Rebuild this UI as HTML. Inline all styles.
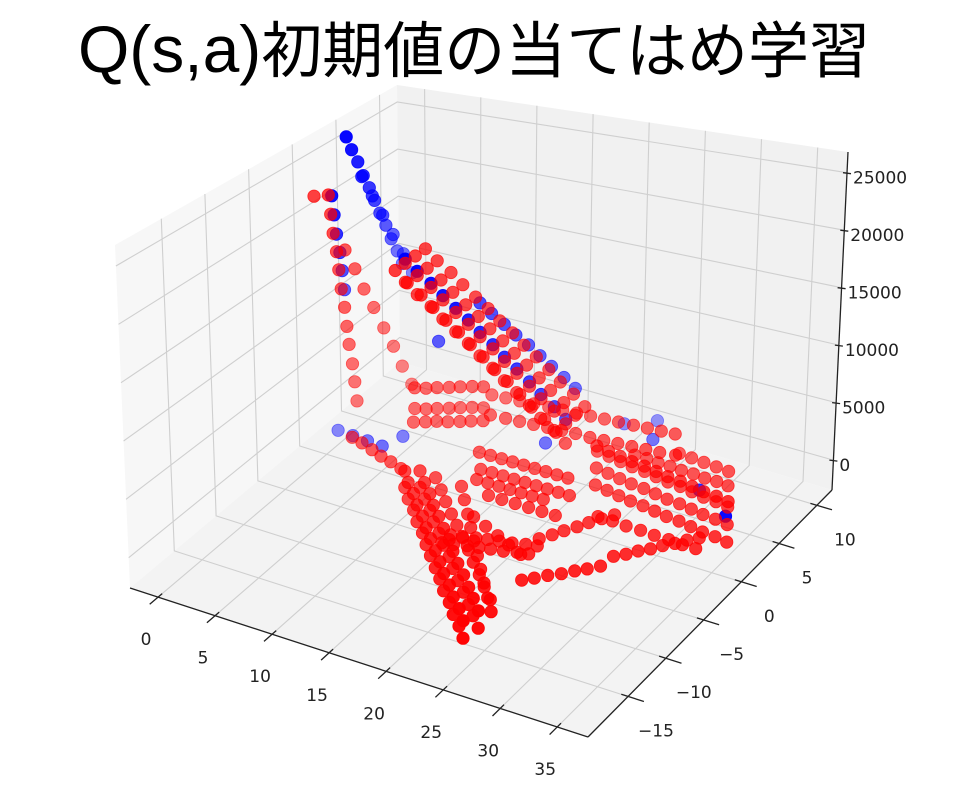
<!DOCTYPE html>
<html><head><meta charset="utf-8">
<style>
html,body{margin:0;padding:0;background:#fff;}
svg{display:block;}
</style></head>
<body>
<svg id="chart" width="968" height="786" viewBox="0 0 968 786" xmlns="http://www.w3.org/2000/svg">
<text x="474" y="72" text-anchor="middle" font-family="'Liberation Sans','Noto Sans CJK JP',sans-serif" font-size="61" fill="#000"><tspan font-size="66">Q(s,a)</tspan>初期値の当てはめ学習</text>
<g id="panes"></g>
<g id="grid"></g>
<g id="axes"></g>
<g id="blue"></g>
<g id="red"></g>
</svg>
<script>
// ---- chart data ----
const xTicks = [0, 5, 10, 15, 20, 25, 30, 35];
const yTicks = [-15, -10, -5, 0, 5, 10];
const zTicks = [0, 5000, 10000, 15000, 20000, 25000];
const xTickLabels = ["0","5","10","15","20","25","30","35"];
const yTickLabels = ["\u221215","\u221210","\u22125","0","5","10"];
const zTickLabels = ["0","5000","10000","15000","20000","25000"];

const blueX = [-0.5,-0.2,0.1,0.4,0.7,1.0,1.3,1.6,1.9,2.2,2.5,
  0.2,0.8,1.4,2.0,2.6,3.1,
  10.5,11.4,12.4,13.3,14.3,15.2,16.1,17.1,18.0,
  2.3,3.7,5.1,6.5,
  21.3,24.5,31.1,34.8,23.4,17.3,7.1,8.2,
  6.9,7.8,8.8,9.7,10.7,11.6,12.5,13.5,14.4,15.3,16.3,17.2,18.2,19.1,
  -0.1,0.0,0.1,0.3,0.4,0.5];
const blueY = [3.6,3.8,4.1,4.3,4.6,4.8,5.0,5.3,5.5,5.8,6.0,
  4.4,4.8,5.2,5.6,6.0,6.4,
  4.6,4.8,5.0,5.2,5.4,5.6,5.8,6.0,6.2,
  -1.6,-1.7,-1.8,-1.9,
  7.9,7.1,3.8,1.9,9.2,3.5,-0.2,2.7,
  0.5,0.7,1.0,1.2,1.4,1.7,1.9,2.1,2.3,2.6,2.8,3.0,3.3,3.5,
  1.3,1.4,1.5,1.6,1.7,1.8];
const blueZ = [26200,24900,23600,22200,20900,19600,18300,17000,15600,14300,13000,
  22000,20000,18000,16000,14000,12000,
  12100,11200,10300,9400,8600,7700,6800,5900,5000,
  1500,1500,1500,1500,
  1500,1500,1000,1000,1500,1500,1500,9000,
  17800,16750,15700,14650,13600,12550,11500,10500,9450,8400,7350,6300,5250,4200,
  21700,19800,17900,16100,14300,12400];

const redX = [
  6.9,7.8,8.8,9.7,10.7,11.6,12.5,13.5,14.4,15.3,16.3,17.2,18.2,19.1,
  6.9,7.8,8.8,9.7,10.7,11.6,12.5,13.5,14.4,15.3,16.3,17.2,18.2,19.1,
  6.9,7.8,8.8,9.7,10.7,11.6,12.5,13.5,14.4,15.3,16.3,17.2,18.2,19.1,
  -0.4,-0.3,-0.2,0,0.1,0.2,0.4,0.5,0.6,0.8,0.9,1.0,-1.2,
  -0.4,0,0.4,0.8,1.3,1.7,2.1,2.5,
  6.1,6.9,7.6,8.4,9.1,9.9,10.7,
  7.1,7.9,8.6,9.4,10.2,10.9,11.7,
  3.8,4.9,6.1,7.2,8.3,9.5,
  10.8,11.9,13.1,14.2,15.4,16.5,17.6,18.8,19.9,21.0,22.2,23.3,24.5,25.6,
  11.8,13.0,14.2,15.3,16.5,17.7,18.9,20.0,21.2,22.4,23.6,24.7,25.9,
  12.1,13.4,14.6,15.9,17.1,18.4,19.7,20.9,22.2,23.4,24.7,
  17.4,18.3,19.3,20.2,21.1,22.1,23.1,24.0,
  23.6,24.2,24.7,25.3,25.8,26.4,27.0,
  25.4,26.1,26.8,27.6,28.3,29.0,29.7,
  29.9,30.6,31.2,31.9,32.5,33.2,33.8,34.5,
  17.6,19.1,20.6,22.0,23.5,
  14.5,15.7,17.0,18.2,19.4,20.7,21.9,23.1,24.4,25.6,
  22.3,23.5,24.7,25.9,27.1,28.3,29.5,30.7,31.9,33.1,34.3,35.5,
  21.1,22.3,23.5,24.7,25.9,27.1,28.3,29.5,30.7,31.9,33.1,34.3,
  23.5,24.7,25.9,27.1,28.3,29.5,30.7,31.9,33.1,34.3,35.5,36.7,
  10.5,11.7,12.9,14.1,15.4,16.6,17.8,19.0,20.2,21.4,22.7,23.9,25.1,26.3,
  12.0,13.3,14.5,15.7,16.9,18.1,19.3,20.6,21.8,23.0,24.2,25.4,26.6,27.9,
  6.9,7.8,8.8,9.7,10.7,11.6,12.5,13.5,14.4,15.3,16.3,17.2,18.2,19.1,
  6.9,7.8,8.8,9.7,10.7,11.6,12.5,13.5,14.4,15.3,16.3,17.2,18.2,19.1,
  6.1,6.9,7.6,8.4,9.1,9.9,10.7,
  13.5,14.5,15.5,16.5,17.5,18.5,19.5,20.5,21.5,
  14.5,15.5,16.5,17.5,18.5,19.5,20.5,21.5,22.5,
  15,16,17,18,19,20,21,
  10.8,11.9,13.1,14.2,15.4,16.5,17.6,18.8,19.9,21.0,22.2,23.3,24.5,25.6,
  11.8,13.0,14.2,15.3,16.5,17.7,18.9,20.0,21.2,22.4,23.6,24.7,25.9,
  17.4,18.3,19.3,20.2,21.1,22.1,23.1,24.0,
  22.3,23.5,24.7,25.9,27.1,28.3,29.5,30.7,31.9,33.1,34.3,35.5,
  24.0,25.1,26.2,27.3,28.4,29.5,30.6,31.7,32.8,
  27.0,28.2,29.4,30.6,31.8,
  17.0,18.2,19.4,20.6,21.8,23.0,
  26.0,27.3,28.6,29.9,31.2,32.5,33.8,35.0];
const redY = [
  0.5,0.7,1.0,1.2,1.4,1.7,1.9,2.1,2.3,2.6,2.8,3.0,3.3,3.5,
  1.7,1.9,2.2,2.4,2.6,2.9,3.1,3.3,3.5,3.8,4.0,4.2,4.5,4.7,
  -0.7,-0.5,-0.2,0.0,0.2,0.5,0.7,0.9,1.1,1.4,1.6,1.8,2.1,2.3,
  1.3,1.4,1.5,1.6,1.7,1.8,1.9,2.0,2.1,2.2,2.3,2.4,0.7,
  3.1,3.7,4.2,4.8,5.3,5.9,6.4,7.0,
  2.6,2.9,3.3,3.7,4.1,4.5,4.8,
  1.1,1.5,1.9,2.2,2.6,3.0,3.4,
  -1.9,-2.2,-2.6,-3.0,-3.3,-3.7,
  -5.0,-6.1,-7.1,-8.2,-9.2,-10.3,-11.3,-12.4,-13.4,-14.5,-15.5,-16.6,-17.6,-18.7,
  -4.5,-5.6,-6.6,-7.7,-8.7,-9.8,-10.8,-11.9,-13.0,-14.0,-15.1,-16.1,-17.2,
  -3.0,-4.1,-5.2,-6.3,-7.3,-8.4,-9.5,-10.6,-11.7,-12.8,-13.9,
  -9.6,-9.4,-9.1,-8.9,-8.7,-8.5,-8.2,-8.0,
  -6.1,-5.3,-4.5,-3.7,-2.9,-2.1,-1.3,
  -10.9,-10.3,-9.6,-9.0,-8.3,-7.7,-7.0,
  -5.6,-5.0,-4.3,-3.7,-3.0,-2.4,-1.7,-1.1,
  -5.9,-6.5,-7.1,-7.7,-8.3,
  -3.1,-4.4,-5.8,-7.1,-8.4,-9.8,-11.1,-12.4,-13.8,-15.1,
  3.0,2.8,2.6,2.4,2.3,2.1,1.9,1.8,1.6,1.4,1.3,1.1,
  4.8,4.6,4.4,4.2,4.1,3.9,3.7,3.6,3.4,3.2,3.1,2.9,
  1.2,1.0,0.8,0.6,0.5,0.3,0.1,0.0,-0.2,-0.4,-0.5,-0.7,
  6.1,6.2,6.3,6.4,6.5,6.6,6.7,6.8,6.9,7.0,7.1,7.2,7.3,7.4,
  3.9,4.0,4.1,4.2,4.3,4.4,4.5,4.5,4.6,4.7,4.8,4.9,5.0,5.2,
  2.9,3.1,3.4,3.6,3.8,4.1,4.3,4.5,4.7,5.0,5.2,5.4,5.7,5.9,
  0.5,0.7,1.0,1.2,1.4,1.7,1.9,2.1,2.3,2.6,2.8,3.0,3.3,3.5,
  2.6,2.9,3.3,3.7,4.1,4.5,4.8,
  0.5,0.5,0.5,0.5,0.5,0.5,0.5,0.5,0.5,
  -0.7,-0.7,-0.7,-0.7,-0.7,-0.7,-0.7,-0.7,-0.7,
  -1.9,-1.9,-1.9,-1.9,-1.9,-1.9,-1.9,
  -5.0,-6.1,-7.1,-8.2,-9.2,-10.3,-11.3,-12.4,-13.4,-14.5,-15.5,-16.6,-17.6,-18.7,
  -4.5,-5.6,-6.6,-7.7,-8.7,-9.8,-10.8,-11.9,-13.0,-14.0,-15.1,-16.1,-17.2,
  -8.5,-8.3,-8.0,-7.8,-7.6,-7.4,-7.1,-6.9,
  3.0,2.8,2.6,2.4,2.3,2.1,1.9,1.8,1.6,1.4,1.3,1.1,
  5.5,5.5,5.4,5.4,5.3,5.3,5.2,5.2,5.1,
  7.0,6.9,6.8,6.7,6.6,
  -3.2,-3.2,-3.2,-3.2,-3.2,-3.2,
  -2.0,-2.0,-2.1,-2.1,-2.2,-2.2,-2.3,-2.3];
const redZ = [
  17400,16350,15300,14250,13200,12150,11100,10100,9050,8000,6950,5900,4850,3800,
  17400,16350,15300,14250,13200,12150,11100,10100,9050,8000,6950,5900,4850,3800,
  17400,16350,15300,14250,13200,12150,11100,10100,9050,8000,6950,5900,4850,3800,
  21700,19800,17900,16100,14300,12400,10600,8700,6900,5000,3200,1300,21700,
  15300,13200,11000,8900,6700,4600,2400,300,
  2000,2000,2000,2000,2000,2000,2000,
  2000,2000,2000,2000,2000,2000,2000,
  1500,1500,1500,1500,1500,1500,
  1000,1000,1000,1000,1000,1000,1000,1000,1000,1000,1000,1000,1000,1000,
  1000,1000,1000,1000,1000,1000,1000,1000,1000,1000,1000,1000,1000,
  1000,1000,1000,1000,1000,1000,1000,1000,1000,1000,1000,
  1000,1000,1000,1000,1000,1000,1000,1000,
  1000,1000,1000,1000,1000,1000,1000,
  1000,1000,1000,1000,1000,1000,1000,
  1000,1000,1000,1000,1000,1000,1000,1000,
  1000,1000,1000,1000,1000,
  1000,1000,1000,1000,1000,1000,1000,1000,1000,1000,
  1000,1000,1000,1000,1000,1000,1000,1000,1000,1000,1000,1000,
  1000,1000,1000,1000,1000,1000,1000,1000,1000,1000,1000,1000,
  1000,1000,1000,1000,1000,1000,1000,1000,1000,1000,1000,1000,
  2300,2300,2300,2300,2300,2300,2300,2300,2300,2300,2300,2300,2300,2300,
  2300,2300,2300,2300,2300,2300,2300,2300,2300,2300,2300,2300,2300,2300,
  17400,16350,15300,14250,13200,12150,11100,10100,9050,8000,6950,5900,4850,3800,
  15600,14550,13500,12450,11400,10350,9300,8300,7250,6200,5150,4100,3050,2000,
  4000,4000,4000,4000,4000,4000,4000,
  1500,1500,1500,1500,1500,1500,1500,1500,1500,
  1000,1000,1000,1000,1000,1000,1000,1000,1000,
  1000,1000,1000,1000,1000,1000,1000,
  2500,2500,2500,2500,2500,2500,2500,2500,2500,2500,2500,2500,2500,2500,
  2500,2500,2500,2500,2500,2500,2500,2500,2500,2500,2500,2500,2500,
  1000,1000,1000,1000,1000,1000,1000,1000,
  3000,3000,3000,3000,3000,3000,3000,3000,3000,3000,3000,3000,
  1000,1000,1000,1000,1000,1000,1000,1000,1000,
  1000,1000,1000,1000,1000,
  1000,1000,1000,1000,1000,1000,
  1000,1000,1000,1000,1000,1000,1000,1000];

// ---- projection ----
const XMIN=-2.46, XMAX=37.7, YMIN=-20.3, YMAX=12, ZMIN=-2600, ZMAX=26800;
const C = {
  b00:[130,588], b10:[588,737], b11:[832,490], b01:[400,362],
  t00:[115,245], t10:[600,392], t11:[848,152], t01:[397,85]
};
function lerp(a,b,t){return [a[0]+(b[0]-a[0])*t, a[1]+(b[1]-a[1])*t];}
function bil(a00,a10,a11,a01,u,v){return lerp(lerp(a00,a01,v), lerp(a10,a11,v), u);}
function proj(x,y,z){
  const u=(x-XMIN)/(XMAX-XMIN), v=(y-YMIN)/(YMAX-YMIN), w=(z-ZMIN)/(ZMAX-ZMIN);
  const b=bil(C.b00,C.b10,C.b11,C.b01,u,v), t=bil(C.t00,C.t10,C.t11,C.t01,u,v);
  return lerp(b,t,w);
}
function nearness(x,y,z){
  const u=(x-XMIN)/(XMAX-XMIN), v=(y-YMIN)/(YMAX-YMIN), w=(z-ZMIN)/(ZMAX-ZMIN);
  return 0.433*u-0.75*v+0.5*w;
}
const NS="http://www.w3.org/2000/svg";
function mk(tag, attrs, parent){
  const e=document.createElementNS(NS,tag);
  for(const k in attrs) e.setAttribute(k,attrs[k]);
  parent.appendChild(e); return e;
}
function pts(list){return list.map(p=>{const q=proj(p[0],p[1],p[2]);return q[0].toFixed(1)+','+q[1].toFixed(1);}).join(' ');}

// panes
const panes=document.getElementById('panes');
let pe;
pe=mk('polygon',{points:pts([[XMIN,YMIN,ZMIN],[XMIN,YMAX,ZMIN],[XMIN,YMAX,ZMAX],[XMIN,YMIN,ZMAX]]),fill:'#f7f7f7'},panes);


pe=mk('polygon',{points:pts([[XMIN,YMAX,ZMIN],[XMAX,YMAX,ZMIN],[XMAX,YMAX,ZMAX],[XMIN,YMAX,ZMAX]]),fill:'#f1f1f1'},panes);


pe=mk('polygon',{points:pts([[XMIN,YMIN,ZMIN],[XMAX,YMIN,ZMIN],[XMAX,YMAX,ZMIN],[XMIN,YMAX,ZMIN]]),fill:'#f3f3f3'},panes);



// grid
const grid=document.getElementById('grid');
const gs={fill:'none',stroke:'#cfcfcf','stroke-width':'1.1'};
xTicks.forEach(xt=>{
  const g=mk('polyline',Object.assign({points:pts([[xt,YMIN,ZMIN],[xt,YMAX,ZMIN],[xt,YMAX,ZMAX]])},gs),grid);
  
  
});
yTicks.forEach(yt=>{
  const g=mk('polyline',Object.assign({points:pts([[XMAX,yt,ZMIN],[XMIN,yt,ZMIN],[XMIN,yt,ZMAX]])},gs),grid);
  
  
});
zTicks.forEach(zt=>{
  const g=mk('polyline',Object.assign({points:pts([[XMIN,YMIN,zt],[XMIN,YMAX,zt],[XMAX,YMAX,zt]])},gs),grid);
  
  
});

// axes
const axes=document.getElementById('axes');
const as={fill:'none',stroke:'#222','stroke-width':'1.3'};
let ax;
ax=mk('polyline',Object.assign({points:pts([[XMIN,YMIN,ZMIN],[XMAX,YMIN,ZMIN]])},as),axes);


ax=mk('polyline',Object.assign({points:pts([[XMAX,YMIN,ZMIN],[XMAX,YMAX,ZMIN]])},as),axes);


ax=mk('polyline',Object.assign({points:pts([[XMAX,YMAX,ZMIN],[XMAX,YMAX,ZMAX]])},as),axes);


const fontAttr={'font-family':"'DejaVu Sans','Liberation Sans',sans-serif",'font-size':'17',fill:'#222'};
xTicks.forEach((xt,i)=>{
  const t=mk('polyline',Object.assign({points:pts([[xt,YMIN+0.5,ZMIN],[xt,YMIN-1.0,ZMIN]])},as),axes);
  
  
  const p=proj(xt,YMIN,ZMIN);
  const l=mk('text',Object.assign({x:(p[0]-12).toFixed(1),y:(p[1]+48).toFixed(1),'text-anchor':'middle'},fontAttr),axes);
  l.textContent=xTickLabels[i];
  
  
});
yTicks.forEach((yt,i)=>{
  const t=mk('polyline',Object.assign({points:pts([[XMAX-0.6,yt,ZMIN],[XMAX+1.4,yt,ZMIN]])},as),axes);
  
  
  const p=proj(XMAX,yt,ZMIN);
  const l=mk('text',Object.assign({x:(p[0]+28).toFixed(1),y:(p[1]+40).toFixed(1),'text-anchor':'middle'},fontAttr),axes);
  l.textContent=yTickLabels[i];
  
  
});
zTicks.forEach((zt,i)=>{
  const p=proj(XMAX,YMAX,zt);
  const t=mk('line',Object.assign({x1:(p[0]-4).toFixed(1),y1:p[1].toFixed(1),x2:(p[0]+4).toFixed(1),y2:(p[1]+1).toFixed(1)},as),axes);
  
  
  const l=mk('text',Object.assign({x:(p[0]+6).toFixed(1),y:(p[1]+11).toFixed(1),'text-anchor':'start'},fontAttr),axes);
  l.textContent=zTickLabels[i];
  
  
});

// scatter
function drawSeries(xs,ys,zs,color,gid,name,amin){
  const g=document.getElementById(gid);
  const idx=xs.map((_,i)=>i);
  const nr=idx.map(i=>nearness(xs[i],ys[i],zs[i]));
  const mn=Math.min(...nr), mxv=Math.max(...nr);
  idx.sort((a,b)=>nr[a]-nr[b]);
  idx.forEach(i=>{
    const p=proj(xs[i],ys[i],zs[i]);
    const a=amin+(1-amin)*(nr[i]-mn)/((mxv-mn)||1);
    const c=mk('circle',{cx:p[0].toFixed(1),cy:p[1].toFixed(1),r:'6.2',fill:color,'fill-opacity':a.toFixed(2),stroke:color,'stroke-opacity':a.toFixed(2),'stroke-width':'0.8'},g);
    
    
  });
}
drawSeries(blueX,blueY,blueZ,'#0000ff','blue','blue-point',0.4);
drawSeries(redX,redY,redZ,'#ff0000','red','red-point',0.45);
</script>
</body></html>
